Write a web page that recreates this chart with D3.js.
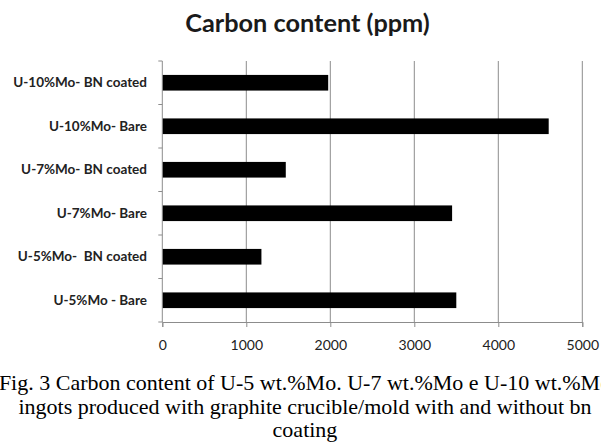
<!DOCTYPE html>
<html>
<head>
<meta charset="utf-8">
<script src="https://cdn.jsdelivr.net/npm/d3@7"></script>
<style>
  html, body { margin: 0; padding: 0; background: #fff; }
  svg { display: block; }
</style>
</head>
<body>
<div id="chart"></div>
<script>
// Data (top to bottom as drawn)
const categories = [
  "U-10%Mo- BN coated",
  "U-10%Mo- Bare",
  "U-7%Mo- BN coated",
  "U-7%Mo- Bare",
  "U-5%Mo-  BN coated",
  "U-5%Mo - Bare"
];
const carbonPpm = [1975, 4600, 1470, 3450, 1180, 3500];
const xTicks = [0, 1000, 2000, 3000, 4000, 5000];
const titleText = "Carbon content (ppm)";
const captionLines = [
  "Fig. 3 Carbon content of U-5 wt.%Mo. U-7 wt.%Mo e U-10 wt.%Mo",
  "ingots produced with graphite crucible/mold with and without bn",
  "coating"
];

const W = 601, H = 446;
const plot = { left: 162.3, right: 582.3, top: 61, bottom: 322 };

const svg = d3.select("#chart").append("svg")
  .attr("width", W).attr("height", H)
  .style("background", "#fff");

const x = d3.scaleLinear().domain([0, 5000]).range([plot.left, plot.right]);
const y = d3.scaleBand().domain(categories).range([plot.top, plot.bottom]).paddingInner(0.64).paddingOuter(0.32);
const yOuter = d3.scaleBand().domain(categories).range([plot.top, plot.bottom]);

// gridlines
svg.append("g").selectAll("line").data(xTicks.filter(d => d > 0)).join("line")
  .attr("x1", d => x(d)).attr("x2", d => x(d))
  .attr("y1", plot.top).attr("y2", plot.bottom)
  .attr("stroke", "#8c8c8c").attr("stroke-width", 1);

// bars
svg.append("g").selectAll("rect").data(categories).join("rect")
  .attr("x", x(0))
  .attr("y", d => y(d))
  .attr("width", (d, i) => x(carbonPpm[i]) - x(0))
  .attr("height", y.bandwidth())
  .attr("fill", "#000");

// x axis
const xAxis = d3.axisBottom(x).tickValues(xTicks).tickSize(5).tickPadding(13).tickFormat(d3.format("d"));
const gx = svg.append("g").attr("transform", `translate(0,${plot.bottom})`).call(xAxis);
gx.select(".domain").attr("stroke", "#8c8c8c");
gx.selectAll(".tick line").attr("stroke", "#8c8c8c");
gx.selectAll(".tick text").attr("font-family", "Lato, 'Open Sans', sans-serif").attr("font-size", 14).attr("fill", "#222");

// y axis (ticks at band boundaries)
svg.append("line").attr("x1", plot.left).attr("x2", plot.left).attr("y1", plot.top).attr("y2", plot.bottom)
  .attr("stroke", "#8c8c8c");
const boundaries = categories.map(c => yOuter(c)).concat([plot.bottom]);
svg.append("g").selectAll("line").data(boundaries).join("line")
  .attr("x1", plot.left - 4).attr("x2", plot.left)
  .attr("y1", d => d).attr("y2", d => d)
  .attr("stroke", "#8c8c8c");

// category labels
svg.append("g").selectAll("text").data(categories).join("text")
  .attr("x", 147)
  .attr("y", d => yOuter(d) + yOuter.bandwidth() / 2)
  .attr("dy", "0.35em")
  .attr("text-anchor", "end")
  .attr("font-family", "Lato, 'Open Sans', sans-serif")
  .attr("font-weight", "bold")
  .attr("font-size", 13.5)
  .attr("fill", "#222")
  .style("white-space", "pre")
  .text(d => d);

// title
svg.append("text")
  .attr("x", 307.5).attr("y", 32)
  .attr("text-anchor", "middle")
  .attr("font-family", "Lato, 'Open Sans', sans-serif")
  .attr("font-weight", "bold")
  .attr("font-size", 25.3)
  .attr("fill", "#1a1a1a")
  .text(titleText);

// caption
svg.append("g").selectAll("text").data(captionLines).join("text")
  .attr("x", 305)
  .attr("y", (d, i) => 390 + i * 23.5)
  .attr("text-anchor", "middle")
  .attr("font-family", "'Liberation Serif', 'Times New Roman', serif")
  .attr("font-size", 22)
  .attr("fill", "#000")
  .text(d => d);
</script>
</body>
</html>
